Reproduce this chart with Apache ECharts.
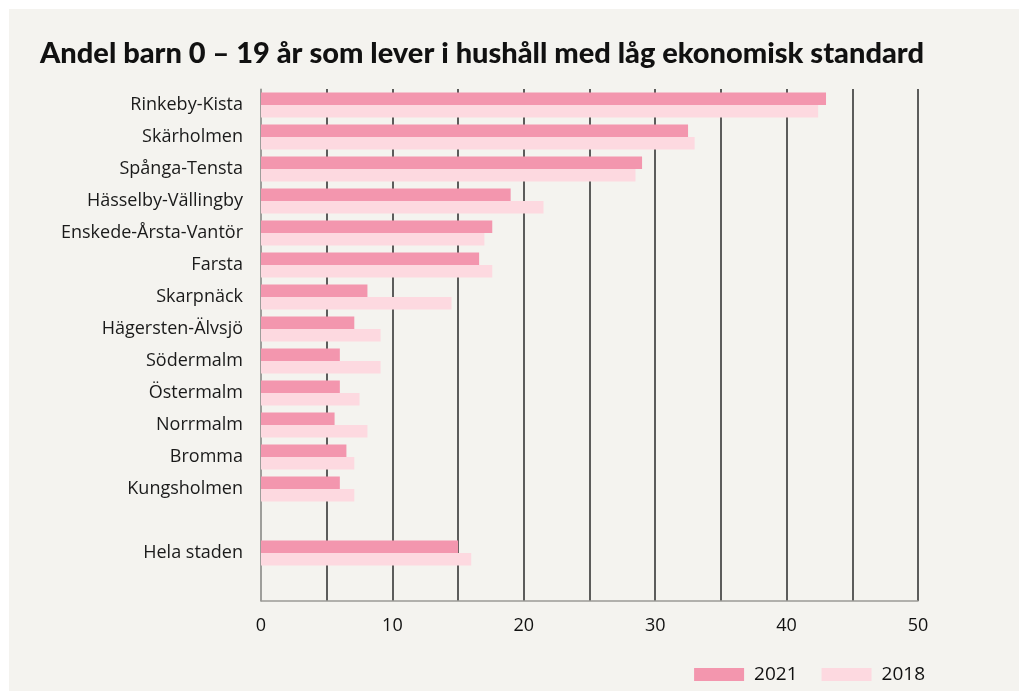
<!DOCTYPE html>
<html>
<head>
<meta charset="utf-8">
<script src="https://cdn.jsdelivr.net/npm/echarts@6/dist/echarts.min.js"></script>
<style>
  html, body { margin: 0; padding: 0; background: #ffffff; }
  #main { position: absolute; left: 9px; top: 9px; width: 1010px; height: 682px; background: #f4f3ef; }
</style>
</head>
<body>
<div id="main"></div>
<script>
// values (percent)
var categories = ['Rinkeby-Kista', 'Skärholmen', 'Spånga-Tensta', 'Hässelby-Vällingby',
  'Enskede-Årsta-Vantör', 'Farsta', 'Skarpnäck', 'Hägersten-Älvsjö', 'Södermalm',
  'Östermalm', 'Norrmalm', 'Bromma', 'Kungsholmen', ' ', 'Hela staden', '  '];
var values2021 = [43.0, 32.5, 29.0, 19.0, 17.6, 16.6, 8.1, 7.1, 6.0, 6.0, 5.6, 6.5, 6.0, null, 15.0, null];
var values2018 = [42.4, 33.0, 28.5, 21.5, 17.0, 17.6, 14.5, 9.1, 9.1, 7.5, 8.1, 7.1, 7.1, null, 16.0, null];
var xTicks = [0, 10, 20, 30, 40, 50];

var myChart = echarts.init(document.getElementById('main'));
var font = 'Open Sans';

var option = {
  backgroundColor: '#f4f3ef',
  title: {
    text: 'Andel barn 0 – 19 år som lever i hushåll med låg ekonomisk standard',
    left: 26,
    top: 25,
    textStyle: { fontFamily: 'Lato', fontWeight: 900, fontSize: 29, color: '#111111' }
  },
  legend: {
    data: ['2021', '2018'],
    right: 89,
    top: 651,
    itemWidth: 50,
    itemHeight: 13,
    itemGap: 24,
    icon: 'rect',
    textStyle: { fontFamily: font, fontSize: 19, color: '#111111', padding: [0, 0, 0, 5] }
  },
  grid: { left: 252, right: 101, top: 80, bottom: 90 },
  xAxis: {
    type: 'value',
    min: 0,
    max: 50,
    interval: 5,
    axisLine: { show: true, lineStyle: { color: '#9a9a96', width: 1.5 } },
    axisTick: { show: false },
    splitLine: { show: true, lineStyle: { color: '#2a2a2a', width: 1.5 } },
    axisLabel: {
      margin: 16,
      fontFamily: font,
      fontSize: 18,
      color: '#111111',
      formatter: function (v) { return xTicks.indexOf(v) >= 0 ? String(v) : ''; }
    }
  },
  yAxis: {
    type: 'category',
    inverse: true,
    data: categories,
    axisLine: { show: true, lineStyle: { color: '#b5b5b0', width: 1.5 } },
    axisTick: { show: false },
    axisLabel: { margin: 18, fontFamily: font, fontSize: 18, color: '#1a1a1a' }
  },
  series: [
    {
      name: '2021',
      type: 'bar',
      data: values2021,
      barWidth: 12.5,
      barGap: '0%',
      itemStyle: { color: '#f396ae' }
    },
    {
      name: '2018',
      type: 'bar',
      data: values2018,
      barWidth: 12.5,
      itemStyle: { color: '#fdd9e0' }
    }
  ],
  animation: false
};
myChart.setOption(option);
</script>
</body>
</html>
